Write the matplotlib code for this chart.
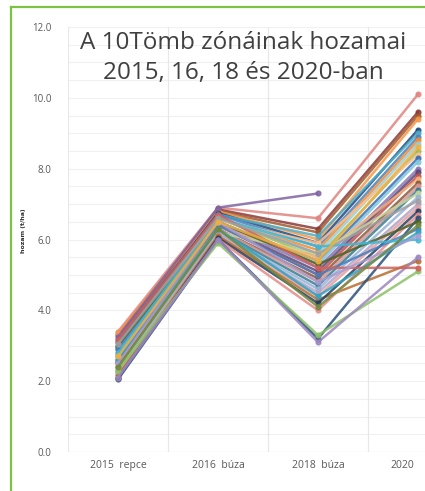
import matplotlib

matplotlib.use("Agg")
import matplotlib.pyplot as plt
import matplotlib.transforms as mtransforms
import numpy as np
from matplotlib.lines import Line2D

categories = ["2015  repce", "2016  búza", "2018  búza", "2020"]

# one entry per zone (t/ha)
y2015 = [3.40, 3.30, 3.20, 3.35, 3.10, 3.00, 3.25, 2.95, 2.90, 2.85,
         2.80, 2.75, 2.70, 2.65, 2.60, 2.55, 2.50, 2.45, 2.40, 2.35,
         2.30, 2.30, 2.25, 2.20, 2.20, 2.15, 2.10, 2.10, 2.05, 2.30,
         2.10, 3.00, 2.90, 2.60, 2.80, 3.15, 2.50, 3.05, 2.40, 2.70]
y2016 = [6.90, 6.85, 6.80, 6.80, 6.75, 6.70, 6.90, 6.70, 6.60, 6.65,
         6.60, 6.55, 6.50, 6.50, 6.45, 6.40, 6.40, 6.35, 6.30, 6.30,
         6.25, 6.20, 6.20, 6.15, 6.10, 6.10, 6.05, 6.00, 6.00, 5.90,
         6.00, 6.50, 6.40, 6.30, 6.60, 6.70, 6.50, 6.60, 6.30, 6.50]
y2018 = [6.60, 6.30, 6.20, 6.00, 5.90, 6.10, 7.30, 5.80, 5.70, 5.60,
         5.50, 5.90, 5.40, 5.30, 5.20, 5.10, 5.00, 5.50, 4.90, 4.80,
         4.70, 5.60, 4.60, 4.50, 4.40, 4.30, 4.20, 4.00, 3.20, 3.30,
         3.10, 5.30, 5.00, 4.40, 5.80, 5.20, 4.80, 5.60, 4.10, 5.40]
y2020 = [10.1, 9.60, 9.50, 9.40, 9.10, 9.00, np.nan, 8.90, 8.80, 8.70,
         8.50, 8.40, 8.30, 8.20, 8.00, 7.90, 7.80, 7.70, 7.60, 7.50,
         7.40, 7.30, 7.20, 7.00, 6.90, 5.40, 6.80, 6.70, 6.60, 5.10,
         5.50, 6.50, 6.30, 6.20, 6.00, 5.20, 6.10, 7.10, 6.40, 8.60]

colors = [
    "#E0847F", "#8C3836", "#9E5A2E", "#F79646", "#1F497D", "#4BACC6",
    "#8064A2", "#4F81BD", "#F28B30", "#93CDDD", "#9BBB59", "#FAC090",
    "#3C6EB4", "#7FC6DC", "#8B74B5", "#5C4776", "#C0504D", "#F7B27A",
    "#8A5A3C", "#D99694", "#357D91", "#C3D69B", "#95B3D7", "#B3A2C7",
    "#E6A09C", "#B66D31", "#254061", "#E58C8A", "#2C4F7C", "#8CC168",
    "#9C86C0", "#4F6228", "#4A7EBB", "#31A3BF", "#3FB7D6", "#D2605C",
    "#A99BD0", "#A0A0A0", "#71893F", "#F0B040",
]

fig = plt.figure(figsize=(4.25, 4.91), dpi=100)
ax = fig.add_axes([68 / 425, 39 / 491, 400 / 425, 425 / 491])

x = np.arange(len(categories))
for i in range(len(y2015)):
    ys = [y2015[i], y2016[i], y2018[i], y2020[i]]
    ax.plot(x, ys, color=colors[i], lw=1.8, marker="o", ms=3.4,
            alpha=0.85, solid_capstyle="round", zorder=3)

ax.set_xlim(-0.5, 3.5)
ax.set_ylim(0, 12)
ax.set_xticks(x)
ax.set_xticklabels(categories, fontsize=7.5, color="#595959", family="Open Sans")
ax.set_yticks(np.arange(0, 12.1, 2))
ax.set_yticklabels([f"{v:.1f}" for v in np.arange(0, 12.1, 2)],
                   fontsize=7, color="#595959", family="Open Sans")
ax.tick_params(length=0, pad=12)
ax.tick_params(axis="x", pad=6)

# the last category label sits left of its point, as in the cropped original
last = ax.get_xticklabels()[-1]
last.set_transform(last.get_transform()
                   + mtransforms.ScaledTranslation(-0.16, 0, fig.dpi_scale_trans))

for v in np.arange(0.5, 12.1, 0.5):
    ax.axhline(v, color="#F0F0F0", lw=0.8, zorder=0)
ax.axhline(0, color="#E4E4E4", lw=0.9, zorder=0)
for v in [-0.5, 0.5, 1.5, 2.5]:
    ax.axvline(v, color="#E8E8E8", lw=0.9, zorder=0)

for s in ax.spines.values():
    s.set_visible(False)

ax.set_ylabel("hozam (t/ha)", fontsize=4.5, color="#333333", fontweight="bold",
              labelpad=4)
ax.yaxis.set_label_coords(-0.105, 0.52)

fig.text(243 / 425, 1 - 58 / 491, "A 10Tömb zónáinak hozamai\n2015, 16, 18 és 2020-ban",
         ha="center", va="center", fontsize=17.5, color="#404040",
         family="Open Sans", linespacing=1.3)

# green frame
green = "#7DC243"
fig.add_artist(Line2D([11 / 425, 11 / 425], [0, 1 - 7 / 491], color=green,
                      lw=1.6, transform=fig.transFigure))
fig.add_artist(Line2D([11 / 425, 1], [1 - 7 / 491, 1 - 7 / 491], color=green,
                      lw=1.6, transform=fig.transFigure))

fig.savefig("out.png", dpi=100)
